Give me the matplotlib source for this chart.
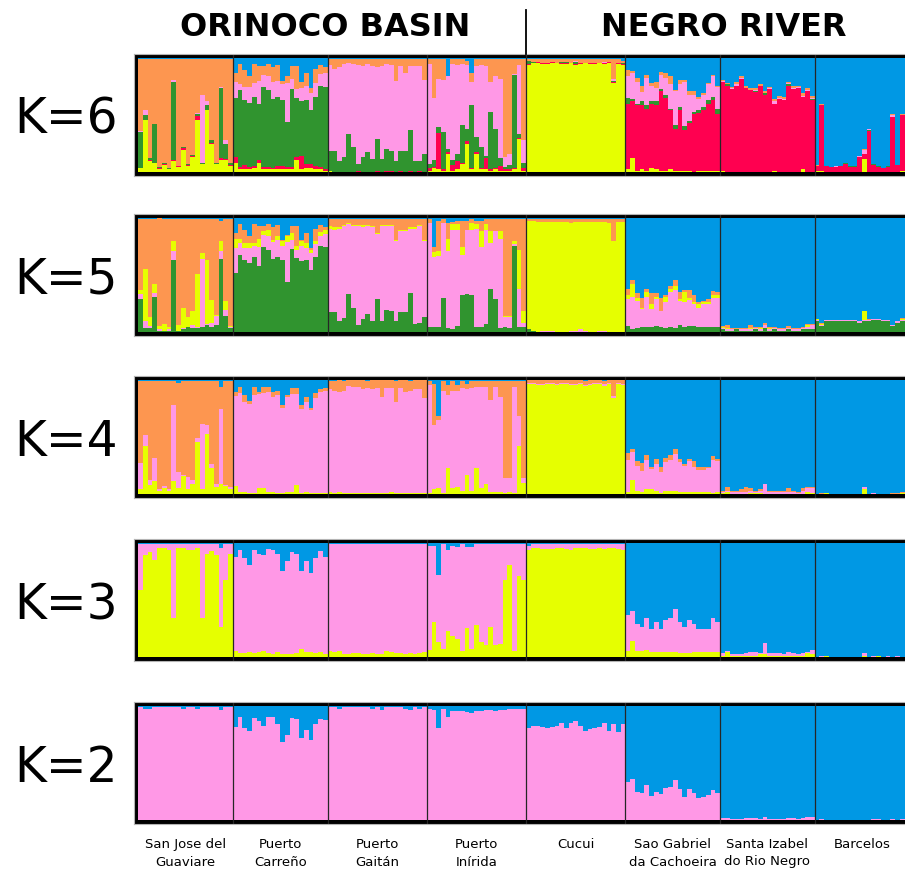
import numpy as np
import matplotlib.pyplot as plt
from matplotlib.lines import Line2D
from matplotlib.transforms import blended_transform_factory

populations = ['San Jose del\nGuaviare', 'Puerto\nCarreño', 'Puerto\nGaitán', 'Puerto\nInírida',
               'Cucui', 'Sao Gabriel\nda Cachoeira', 'Santa Izabel\ndo Rio Negro', 'Barcelos']
pop_sizes = [20, 20, 21, 21, 21, 20, 20, 20]
regions = ['ORINOCO BASIN', 'NEGRO RIVER']

# membership (%) per individual, one row per population
# the top cluster (blue) is whatever is left over in each bar

# K=2 : pink, blue
k2_pink = [
    [99, 98, 98, 99, 99, 99, 99, 99, 99, 98, 99, 99, 98, 99, 99, 99, 99, 97, 99, 99],
    [82, 91, 81, 78, 90, 87, 83, 91, 91, 84, 69, 75, 90, 89, 72, 79, 70, 84, 89, 88],
    [99, 99, 98, 99, 99, 99, 99, 99, 99, 98, 99, 97, 99, 99, 99, 99, 98, 97, 99, 98, 99],
    [98, 97, 81, 98, 91, 96, 96, 96, 95, 94, 96, 96, 97, 97, 96, 97, 97, 98, 98, 98, 98],
    [81, 83, 83, 82, 81, 82, 83, 85, 81, 85, 87, 83, 78, 80, 81, 82, 85, 78, 84, 77, 84],
    [33, 36, 25, 24, 31, 21, 25, 23, 28, 29, 35, 27, 20, 27, 24, 19, 20, 22, 26, 24],
    [2, 2, 1, 1, 1, 2, 2, 2, 1, 3, 1, 1, 1, 1, 2, 2, 1, 2, 3, 3],
    [0, 1, 0, 0, 0, 0, 0, 0, 0, 0, 0, 0, 1, 1, 0, 0, 1, 0, 1, 1],
]

# K=3 : yellow, pink, blue
k3_yellow = [
    [59, 90, 92, 85, 96, 96, 94, 34, 96, 96, 94, 94, 96, 34, 91, 93, 90, 26, 68, 91],
    [5, 3, 3, 4, 3, 4, 5, 3, 2, 4, 2, 2, 2, 3, 7, 4, 4, 3, 4, 2],
    [5, 4, 5, 2, 2, 3, 3, 2, 2, 3, 2, 2, 5, 4, 3, 3, 2, 3, 2, 3, 4],
    [6, 31, 13, 7, 23, 18, 16, 5, 25, 7, 28, 13, 10, 26, 10, 11, 68, 81, 5, 71, 68],
    [94, 96, 96, 95, 95, 95, 96, 96, 95, 94, 96, 96, 96, 95, 95, 96, 95, 96, 96, 95, 94],
    [5, 14, 5, 5, 6, 4, 4, 4, 4, 4, 4, 3, 3, 3, 4, 4, 4, 4, 4, 4],
    [1, 4, 1, 1, 1, 1, 1, 1, 2, 2, 1, 1, 1, 1, 1, 1, 1, 1, 3, 2],
    [0, 0, 1, 0, 0, 0, 0, 0, 0, 0, 1, 0, 0, 1, 0, 0, 0, 0, 0, 0],
]
k3_pink = [
    [40, 9, 7, 14, 3, 3, 5, 65, 3, 3, 5, 5, 3, 65, 8, 6, 9, 70, 31, 8],
    [83, 91, 84, 77, 91, 87, 85, 92, 92, 87, 74, 82, 90, 88, 69, 80, 70, 84, 89, 86],
    [94, 95, 94, 97, 97, 96, 96, 97, 97, 96, 97, 97, 94, 95, 96, 96, 97, 96, 97, 96, 95],
    [92, 67, 59, 92, 71, 80, 81, 94, 72, 90, 71, 86, 89, 73, 89, 88, 31, 18, 94, 28, 31],
    [4, 3, 3, 4, 4, 4, 3, 3, 4, 5, 3, 3, 3, 4, 4, 3, 4, 3, 3, 4, 5],
    [32, 26, 24, 21, 28, 20, 27, 20, 28, 30, 38, 28, 23, 29, 25, 20, 20, 20, 30, 27],
    [2, 1, 1, 1, 1, 2, 3, 3, 1, 10, 2, 2, 2, 1, 3, 2, 1, 2, 1, 4],
    [0, 1, 0, 0, 0, 0, 0, 0, 0, 0, 2, 0, 1, 0, 0, 1, 0, 1, 0, 0],
]

# K=4 : yellow, pink, orange, blue
k4_yellow = [
    [4, 42, 8, 11, 3, 5, 3, 11, 5, 16, 4, 9, 46, 4, 53, 23, 6, 9, 7, 4],
    [7, 2, 2, 1, 1, 5, 5, 2, 2, 1, 1, 2, 2, 8, 1, 2, 1, 1, 1, 1],
    [2, 1, 2, 1, 1, 1, 1, 1, 1, 1, 1, 1, 1, 2, 1, 1, 1, 1, 1, 1, 1],
    [1, 4, 5, 1, 23, 5, 6, 3, 17, 3, 23, 5, 9, 2, 2, 2, 1, 2, 1, 42, 10],
    [97, 97, 96, 96, 97, 97, 96, 97, 97, 96, 96, 97, 95, 96, 97, 97, 95, 97, 84, 97, 96],
    [2, 12, 3, 2, 4, 4, 3, 1, 3, 3, 3, 2, 2, 2, 2, 2, 2, 2, 1, 2],
    [1, 2, 0, 0, 0, 0, 1, 1, 1, 0, 0, 0, 0, 0, 0, 0, 0, 0, 2, 1],
    [0, 0, 1, 0, 0, 0, 0, 0, 0, 0, 4, 0, 0, 0, 0, 0, 0, 0, 1, 1],
]
k4_pink = [
    [23, 10, 4, 21, 1, 2, 1, 67, 14, 1, 11, 3, 3, 58, 8, 3, 3, 66, 1, 2],
    [79, 87, 79, 78, 86, 83, 84, 88, 83, 86, 75, 83, 86, 80, 74, 79, 73, 83, 89, 90],
    [90, 90, 88, 90, 94, 93, 93, 91, 92, 91, 92, 84, 92, 91, 80, 92, 89, 90, 91, 91, 83],
    [95, 57, 60, 90, 64, 86, 85, 90, 75, 90, 71, 89, 85, 81, 92, 83, 13, 12, 93, 27, 4],
    [1, 1, 1, 1, 1, 1, 1, 1, 1, 1, 1, 1, 1, 1, 1, 1, 2, 1, 2, 1, 1],
    [28, 25, 22, 18, 26, 18, 23, 18, 25, 27, 32, 26, 23, 27, 22, 19, 19, 21, 29, 27],
    [1, 1, 2, 2, 2, 2, 2, 1, 2, 9, 2, 2, 2, 2, 2, 2, 1, 3, 3, 4],
    [0, 0, 0, 0, 0, 0, 0, 0, 0, 0, 2, 0, 1, 0, 0, 0, 0, 0, 0, 0],
]
k4_orange = [
    [72, 47, 87, 67, 95, 92, 95, 21, 79, 82, 84, 87, 50, 37, 38, 73, 90, 19, 91, 93],
    [4, 5, 6, 3, 7, 2, 5, 4, 5, 4, 2, 2, 5, 5, 3, 4, 2, 5, 2, 2],
    [7, 8, 10, 8, 5, 6, 6, 8, 6, 8, 7, 15, 7, 7, 18, 7, 10, 8, 8, 8, 16],
    [3, 36, 4, 8, 9, 8, 5, 6, 5, 6, 5, 5, 5, 16, 5, 14, 85, 85, 5, 30, 85],
    [2, 2, 3, 3, 2, 2, 3, 2, 2, 3, 3, 2, 3, 3, 2, 2, 2, 2, 14, 2, 3],
    [6, 3, 4, 7, 4, 2, 5, 5, 4, 4, 5, 3, 1, 2, 5, 3, 3, 1, 3, 2],
    [1, 3, 1, 1, 2, 4, 2, 1, 1, 0, 1, 1, 1, 1, 3, 1, 1, 2, 1, 1],
    [0, 1, 0, 0, 0, 0, 0, 0, 0, 0, 0, 0, 0, 0, 0, 0, 1, 1, 1, 0],
]

# K=5 : green, pink, yellow, orange, blue
k5_green = [
    [29, 3, 3, 31, 1, 1, 1, 63, 1, 2, 4, 3, 3, 4, 6, 4, 6, 64, 14, 3],
    [52, 68, 63, 61, 66, 58, 75, 72, 64, 66, 63, 44, 73, 65, 62, 63, 54, 66, 76, 75],
    [17, 17, 9, 12, 33, 21, 6, 11, 16, 9, 29, 9, 19, 18, 9, 17, 17, 34, 7, 8, 13],
    [4, 4, 4, 30, 3, 2, 5, 32, 33, 32, 4, 4, 7, 38, 29, 3, 4, 3, 76, 4, 4],
    [2, 1, 0, 0, 0, 0, 0, 0, 0, 0, 0, 0, 0, 0, 0, 0, 0, 0, 0, 0, 0],
    [5, 2, 3, 4, 4, 4, 5, 4, 3, 4, 3, 6, 4, 5, 5, 4, 4, 4, 4, 4],
    [2, 1, 1, 2, 1, 1, 1, 2, 1, 3, 1, 2, 1, 1, 2, 1, 1, 2, 2, 2],
    [9, 5, 9, 9, 9, 9, 9, 9, 9, 8, 9, 9, 10, 10, 9, 9, 5, 8, 9, 9],
]
k5_pink = [
    [4, 6, 2, 3, 1, 0, 1, 8, 0, 1, 0, 3, 1, 60, 1, 4, 8, 7, 5, 1],
    [22, 10, 11, 13, 10, 17, 10, 12, 15, 15, 13, 35, 8, 7, 14, 11, 15, 11, 8, 11],
    [74, 73, 82, 81, 62, 72, 87, 81, 77, 83, 57, 84, 74, 75, 71, 72, 72, 57, 84, 85, 67],
    [92, 62, 63, 66, 68, 88, 85, 36, 57, 58, 87, 71, 83, 40, 60, 79, 9, 10, 1, 34, 4],
    [0, 0, 0, 1, 1, 1, 0, 0, 0, 1, 1, 2, 1, 0, 0, 1, 1, 0, 0, 0, 0],
    [24, 29, 24, 16, 27, 16, 24, 14, 23, 31, 34, 21, 22, 23, 19, 17, 20, 20, 26, 26],
    [1, 1, 1, 0, 1, 1, 1, 1, 1, 3, 1, 1, 1, 1, 1, 1, 1, 1, 2, 4],
    [1, 1, 1, 1, 1, 1, 1, 1, 1, 1, 1, 1, 1, 1, 1, 1, 1, 1, 1, 1],
]
k5_yellow = [
    [4, 46, 8, 8, 3, 6, 2, 9, 5, 18, 9, 12, 47, 5, 56, 20, 1, 9, 8, 1],
    [8, 4, 4, 4, 2, 7, 4, 6, 2, 3, 4, 5, 6, 4, 4, 4, 3, 3, 4, 4],
    [2, 2, 1, 1, 1, 1, 1, 2, 1, 1, 1, 1, 1, 1, 1, 1, 1, 1, 1, 1, 1],
    [0, 4, 4, 0, 11, 5, 5, 7, 0, 6, 4, 14, 5, 11, 0, 7, 1, 1, 3, 34, 10],
    [96, 97, 97, 96, 96, 96, 97, 97, 97, 95, 96, 95, 96, 97, 97, 96, 96, 96, 80, 97, 97],
    [3, 11, 3, 1, 4, 4, 2, 0, 5, 3, 3, 2, 9, 2, 2, 3, 2, 2, 2, 2],
    [1, 1, 0, 0, 0, 0, 1, 0, 1, 0, 1, 0, 0, 0, 0, 0, 0, 0, 2, 0],
    [1, 1, 0, 0, 0, 0, 0, 0, 0, 0, 8, 0, 0, 0, 0, 0, 0, 0, 1, 0],
]
k5_orange = [
    [62, 44, 86, 57, 95, 92, 95, 19, 93, 78, 86, 81, 48, 30, 36, 71, 84, 18, 72, 94],
    [5, 13, 12, 6, 17, 11, 4, 5, 11, 10, 1, 1, 6, 17, 1, 9, 2, 11, 6, 2],
    [6, 7, 7, 5, 3, 5, 5, 5, 5, 6, 12, 5, 5, 5, 18, 9, 9, 7, 7, 5, 18],
    [3, 5, 27, 3, 14, 2, 3, 23, 8, 3, 3, 9, 4, 10, 10, 10, 85, 85, 19, 27, 81],
    [1, 1, 2, 2, 2, 2, 2, 2, 2, 3, 2, 2, 2, 2, 2, 2, 2, 3, 19, 2, 2],
    [6, 4, 4, 9, 3, 10, 3, 12, 1, 2, 6, 6, 2, 7, 6, 2, 1, 3, 4, 3],
    [1, 3, 1, 1, 1, 1, 3, 1, 1, 2, 1, 1, 1, 1, 2, 1, 1, 1, 1, 1],
    [0, 1, 0, 0, 0, 0, 0, 0, 0, 0, 0, 1, 0, 0, 0, 0, 0, 0, 1, 0],
]

# K=6 : yellow, red, green, pink, orange, blue
k6_yellow = [
    [3, 46, 9, 8, 2, 6, 2, 9, 4, 19, 5, 13, 46, 7, 54, 24, 7, 10, 10, 5],
    [8, 2, 2, 2, 3, 8, 2, 2, 2, 2, 2, 2, 2, 10, 2, 3, 3, 2, 2, 1],
    [1, 0, 0, 0, 0, 0, 0, 0, 0, 0, 0, 0, 0, 0, 0, 0, 0, 0, 0, 0, 0],
    [1, 3, 2, 1, 16, 1, 2, 7, 24, 2, 16, 2, 2, 1, 2, 1, 1, 1, 2, 29, 1],
    [94, 96, 96, 95, 95, 96, 96, 95, 95, 96, 94, 95, 96, 95, 95, 96, 95, 96, 78, 95, 94],
    [2, 12, 1, 2, 1, 3, 2, 1, 1, 2, 1, 1, 1, 1, 0, 1, 1, 1, 1, 1],
    [1, 0, 0, 0, 0, 0, 0, 0, 0, 0, 0, 1, 0, 0, 0, 0, 0, 2, 0, 0],
    [1, 1, 0, 0, 0, 0, 0, 0, 0, 0, 11, 0, 0, 0, 0, 0, 0, 0, 1, 0],
]
k6_red = [
    [0, 0, 1, 0, 1, 1, 0, 1, 1, 2, 1, 1, 3, 0, 0, 1, 0, 2, 1, 1],
    [5, 2, 4, 2, 2, 2, 2, 2, 1, 3, 3, 2, 2, 3, 12, 4, 4, 3, 2, 1],
    [0, 0, 0, 0, 0, 0, 1, 0, 0, 0, 1, 0, 1, 1, 0, 1, 0, 1, 0, 1, 0],
    [2, 1, 32, 1, 1, 5, 7, 1, 3, 1, 1, 1, 10, 1, 1, 4, 1, 1, 1, 1, 2],
    [1, 0, 1, 1, 1, 1, 0, 1, 1, 0, 1, 1, 0, 1, 1, 0, 1, 1, 1, 1, 1],
    [58, 50, 58, 57, 54, 57, 57, 70, 64, 52, 37, 53, 36, 42, 51, 51, 53, 59, 62, 50],
    [78, 76, 73, 76, 82, 74, 72, 70, 76, 68, 73, 59, 64, 63, 76, 73, 74, 64, 71, 63],
    [4, 58, 5, 4, 4, 5, 7, 4, 4, 13, 5, 36, 6, 4, 3, 4, 48, 6, 49, 2],
]
k6_green = [
    [32, 4, 2, 34, 1, 1, 1, 69, 0, 1, 1, 1, 2, 1, 5, 3, 1, 62, 13, 2],
    [52, 68, 57, 57, 61, 50, 71, 68, 61, 61, 58, 40, 69, 52, 48, 56, 47, 61, 72, 73],
    [17, 18, 9, 13, 33, 22, 6, 13, 17, 11, 28, 11, 19, 17, 9, 17, 18, 36, 9, 8, 16],
    [4, 6, 5, 33, 3, 4, 7, 33, 11, 56, 14, 19, 2, 51, 35, 7, 2, 4, 82, 3, 5],
    [3, 1, 0, 0, 0, 0, 0, 1, 1, 0, 2, 0, 0, 0, 0, 0, 0, 0, 1, 0, 1],
    [5, 2, 1, 3, 4, 2, 3, 2, 3, 1, 3, 3, 3, 2, 2, 2, 3, 3, 3, 4],
    [0, 1, 0, 0, 0, 0, 0, 1, 0, 1, 0, 0, 0, 0, 1, 0, 0, 0, 0, 1],
    [0, 0, 0, 0, 0, 0, 1, 1, 1, 0, 0, 1, 1, 1, 0, 1, 0, 0, 0, 0],
]
k6_pink = [
    [1, 4, 0, 0, 0, 0, 0, 2, 0, 0, 0, 0, 1, 60, 3, 0, 0, 1, 4, 0],
    [14, 5, 12, 14, 12, 20, 10, 12, 15, 14, 14, 34, 9, 8, 12, 13, 15, 12, 10, 12],
    [76, 73, 83, 82, 63, 73, 87, 80, 78, 82, 63, 82, 75, 76, 71, 75, 69, 56, 84, 84, 65],
    [88, 55, 43, 46, 64, 85, 78, 54, 56, 20, 62, 72, 79, 26, 46, 70, 9, 10, 1, 61, 20],
    [0, 0, 0, 0, 0, 0, 0, 0, 0, 0, 1, 0, 0, 0, 0, 0, 1, 0, 2, 0, 0],
    [19, 23, 19, 8, 24, 14, 12, 12, 15, 22, 30, 20, 39, 23, 15, 10, 11, 14, 18, 20],
    [1, 0, 1, 1, 1, 0, 0, 1, 0, 0, 1, 2, 1, 1, 1, 1, 1, 1, 1, 1],
    [0, 0, 0, 0, 1, 0, 0, 0, 0, 1, 3, 1, 0, 0, 0, 0, 2, 0, 0, 0],
]
k6_orange = [
    [63, 45, 87, 57, 95, 91, 96, 18, 94, 77, 92, 84, 47, 31, 37, 71, 91, 24, 71, 91],
    [8, 18, 15, 9, 17, 13, 8, 11, 13, 14, 3, 6, 11, 20, 5, 11, 5, 13, 8, 5],
    [5, 8, 7, 4, 3, 4, 5, 6, 4, 6, 7, 6, 4, 5, 19, 6, 12, 6, 6, 6, 18],
    [4, 34, 17, 18, 0, 4, 5, 4, 4, 8, 6, 5, 6, 20, 15, 17, 86, 83, 13, 5, 71],
    [1, 2, 2, 3, 3, 2, 3, 2, 2, 3, 1, 3, 3, 3, 3, 3, 2, 2, 17, 3, 2],
    [6, 2, 4, 6, 2, 2, 5, 3, 4, 7, 1, 4, 2, 3, 3, 2, 1, 1, 1, 1],
    [1, 1, 1, 2, 1, 2, 2, 2, 1, 2, 1, 2, 2, 2, 1, 2, 1, 2, 2, 2],
    [1, 1, 0, 0, 0, 0, 0, 0, 0, 0, 1, 0, 0, 0, 0, 0, 1, 0, 1, 0],
]

colors = {'yellow': '#e6ff00', 'red': '#ff0050', 'green': '#30942f',
          'pink': '#ff98e6', 'orange': '#fd9650', 'blue': '#0098e4'}

# bottom-to-top stacking for each panel, blue always fills the rest
panels = [
    ('K=6', [k6_yellow, k6_red, k6_green, k6_pink, k6_orange], ['yellow', 'red', 'green', 'pink', 'orange']),
    ('K=5', [k5_green, k5_pink, k5_yellow, k5_orange], ['green', 'pink', 'yellow', 'orange']),
    ('K=4', [k4_yellow, k4_pink, k4_orange], ['yellow', 'pink', 'orange']),
    ('K=3', [k3_yellow, k3_pink], ['yellow', 'pink']),
    ('K=2', [k2_pink], ['pink']),
]


def flat(rows):
    for r, n in zip(rows, pop_sizes):
        assert len(r) == n
    return np.concatenate([np.array(r, dtype=float) for r in rows]) / 100.0


W, H = 905, 869
fig = plt.figure(figsize=(W / 100, H / 100), dpi=100)

# pixel layout of the colored area of each panel
panel_top = [58.3, 218.3, 380.3, 543.3, 706.3]
panel_bot = [171.7, 331.7, 494.0, 656.7, 820.0]
frame = 4.2
left_px = 134
x0_px = 138.3
bar_px = 4.73

n = sum(pop_sizes)
xs = np.arange(n)
bounds = np.cumsum(pop_sizes)
centers = bounds - np.array(pop_sizes) / 2

for (label, parts, cols), top, bot in zip(panels, panel_top, panel_bot):
    ax = fig.add_axes([left_px / W, 1 - (bot + frame) / H,
                       (W - left_px) / W, (bot - top + 2 * frame) / H])
    ax.set_facecolor('black')
    base = np.zeros(n)
    for rows, c in zip(parts, cols):
        vals = flat(rows)
        ax.bar(xs, vals, bottom=base, width=1.0, align='edge', color=colors[c],
               linewidth=0, antialiased=False)
        base += vals
    ax.bar(xs, np.clip(1 - base, 0, None), bottom=base, width=1.0, align='edge',
           color=colors['blue'], linewidth=0, antialiased=False)
    for b in bounds[:-1]:
        ax.axvline(b, color='#262626', lw=0.9)
    h = bot - top
    ax.set_xlim(-(x0_px - left_px) / bar_px, (W - x0_px) / bar_px)
    ax.set_ylim(-frame / h, 1 + frame / h)
    ax.set_xticks([])
    ax.set_yticks([])
    for s in ax.spines.values():
        s.set_color('#b4b4b4')
        s.set_linewidth(0.8)
    ax.spines['right'].set_visible(False)
    fig.text(14 / W, 1 - (top + bot) / 2 / H, label, fontsize=35,
             ha='left', va='center_baseline')

# population names under the last panel
tr = blended_transform_factory(ax.transData, fig.transFigure)
for c, name in zip(centers, populations):
    ax.text(c, 1 - 838 / H, name, transform=tr, ha='center', va='top',
            fontsize=9.5, linespacing=1.45)

# region headers
fig.text(325 / W, 1 - 27 / H, regions[0], fontsize=23, fontweight='bold',
         ha='center', va='center')
fig.text(724 / W, 1 - 27 / H, regions[1], fontsize=23, fontweight='bold',
         ha='center', va='center')
fig.add_artist(Line2D([526 / W, 526 / W], [1 - 10 / H, 1 - 54 / H],
                      color='black', lw=1.3))

fig.savefig('out.png', dpi=100, facecolor='white')
